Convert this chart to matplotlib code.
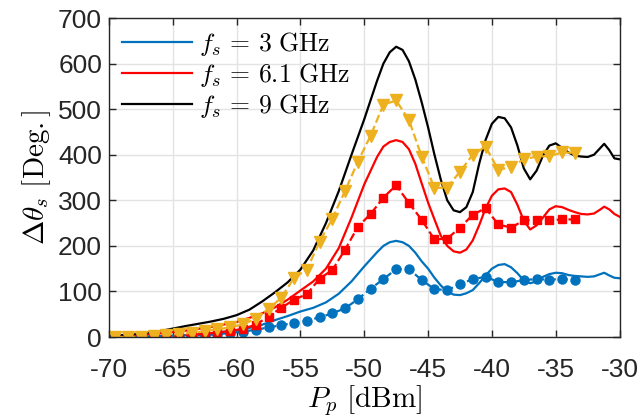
import numpy as np
import matplotlib
matplotlib.use('Agg')
import matplotlib.pyplot as plt

plt.rcParams['font.family'] = ['Liberation Sans', 'DejaVu Sans']
plt.rcParams['mathtext.fontset'] = 'cm'
plt.rcParams['axes.unicode_minus'] = False

# ---- simulation curves (solid) ----
x_blue = [-70, -68, -66, -64, -62, -60, -59, -58, -57, -56, -55, -54, -53, -52, -51, -50,
          -49, -48.5, -48, -47.5, -47, -46.5, -46, -45.5, -45, -44.5, -44, -43.5, -43, -42.5,
          -42, -41.5, -41, -40.5, -40, -39.5, -39, -38.5, -38, -37.5, -37, -36.5, -36, -35.5,
          -35, -34.5, -34, -33.5, -33, -32.5, -32, -31.5, -31.2, -30.8, -30.4, -30]
y_blue = [0, 1, 2, 4, 8, 15, 20, 27, 37, 46, 56, 64, 76, 95, 122, 155,
          186, 200, 208, 211, 208, 200, 185, 166, 150, 130, 113, 100, 93, 92,
          96, 103, 118, 135, 150, 158, 160, 153, 140, 124, 118, 122, 132, 138,
          141, 140, 136, 134, 133, 132, 133, 138, 141, 135, 130, 129]

x_red = [-70, -68, -66, -64, -62, -60, -59, -58, -57, -56, -55, -54, -53, -52, -51, -50,
         -49, -48.5, -48, -47.5, -47, -46.5, -46, -45.5, -45, -44.5, -44, -43.5, -43, -42.5,
         -42, -41.5, -41, -40.5, -40, -39.5, -39, -38.5, -38, -37.5, -37, -36.5, -36, -35.5,
         -35, -34.5, -34, -33.5, -33, -32.5, -32, -31.5, -31.2, -30.8, -30.4, -30]
y_red = [1, 4, 8, 14, 22, 33, 42, 52, 65, 82, 102, 122, 150, 195, 262, 335,
         395, 418, 428, 432, 428, 412, 380, 337, 295, 258, 222, 200, 188, 185,
         192, 212, 245, 282, 310, 324, 326, 318, 290, 255, 236, 245, 262, 280,
         287, 285, 279, 274, 270, 269, 271, 280, 286, 280, 270, 264]

x_black = [-70, -68, -66, -64, -62, -61, -60, -59, -58, -57, -56, -55, -54, -53, -52, -51,
           -50, -49, -48.5, -48, -47.5, -47, -46.5, -46, -45.5, -45, -44.5, -44, -43.5, -43,
           -42.5, -42, -41.5, -41, -40.5, -40, -39.5, -39, -38.5, -38, -37.5, -37, -36.5, -36,
           -35.5, -35, -34.5, -34, -33.5, -33, -32.5, -32, -31.5, -31.2, -30.8, -30.4, -30]
y_black = [2, 6, 13, 24, 34, 40, 48, 60, 78, 98, 120, 148, 190, 250, 320, 400,
           478, 562, 600, 625, 637, 630, 605, 565, 515, 460, 400, 345, 300, 278,
           274, 285, 318, 380, 432, 468, 483, 480, 460, 420, 370, 346, 365, 398,
           420, 425, 415, 405, 398, 396, 395, 400, 415, 424, 410, 392, 390]

# ---- measured data (markers, dashed) ----
x_meas = np.arange(-69.5, -33, 1.0)
y_meas_3 = [0, 0, 0, 1, 1, 2, 3, 4, 6, 9, 12, 16, 21, 26, 31, 36, 43, 52, 63, 83,
            106, 127, 149, 149, 125, 105, 103, 116, 127, 132, 121, 120, 125, 127, 126, 127, 126]
y_meas_61 = [0, 0, 1, 1, 2, 3, 5, 7, 10, 13, 18, 27, 45, 64, 82, 94, 128, 147, 192, 242,
             270, 306, 333, 294, 257, 214, 216, 240, 268, 283, 247, 240, 256, 257, 256, 258, 258]
y_meas_9 = [0, 0, 1, 2, 4, 7, 9, 13, 17, 21, 28, 40, 62, 86, 130, 148, 209, 260, 321, 385,
            442, 510, 519, 476, 396, 327, 328, 363, 400, 418, 367, 373, 390, 396, 397, 405, 404]

c_blue = '#0072BD'
c_red = '#FF0000'
c_yel = '#EDB120'

fig = plt.figure(figsize=(6.42, 4.2), dpi=100)
ax = fig.add_axes([0.1698, 0.1976, 0.7952, 0.7595])

ax.plot(x_blue, y_blue, color=c_blue, lw=1.6, label=r'$f_s\, =\, 3\ \mathrm{GHz}$')
ax.plot(x_red, y_red, color=c_red, lw=1.6, label=r'$f_s\, =\, 6.1\ \mathrm{GHz}$')
ax.plot(x_black, y_black, color='k', lw=1.6, label=r'$f_s\, =\, 9\ \mathrm{GHz}$')

ax.plot(x_meas, y_meas_3, ls='--', color=c_blue, lw=1.6, marker='o', ms=6.5)
ax.plot(x_meas, y_meas_61, ls='--', color=c_red, lw=1.6, marker='s', ms=5.5)
ax.plot(x_meas, y_meas_9, ls='--', color=c_yel, lw=1.6, marker='v', ms=8)

ax.set_xlim(-70, -30)
ax.set_ylim(0, 700)
ax.set_xticks(np.arange(-70, -29, 5))
ax.set_yticks(np.arange(0, 701, 100))
ax.grid(True, color='#E3E3E3', lw=1.0)
ax.set_axisbelow(True)
ax.tick_params(direction='in', length=5, width=1, top=True, right=True,
               labelsize=19, colors='#262626')
ax.tick_params(axis='x', pad=15)
ax.tick_params(axis='y', pad=5)
for s in ax.spines.values():
    s.set_color('#262626')
    s.set_linewidth(1.0)

ax.set_xlabel(r'$P_p\ [\mathrm{dBm}]$', fontsize=21, labelpad=1)
ax.set_ylabel(r'$\Delta\theta_s\ [\mathrm{Deg.}]$', fontsize=21, labelpad=4)

ax.legend(loc='upper left', frameon=False, fontsize=18.5, handlelength=2.7,
          handletextpad=0.3, labelspacing=0.12, borderaxespad=0.0,
          bbox_to_anchor=(0.006, 0.995))

fig.savefig('out.png', dpi=100)
